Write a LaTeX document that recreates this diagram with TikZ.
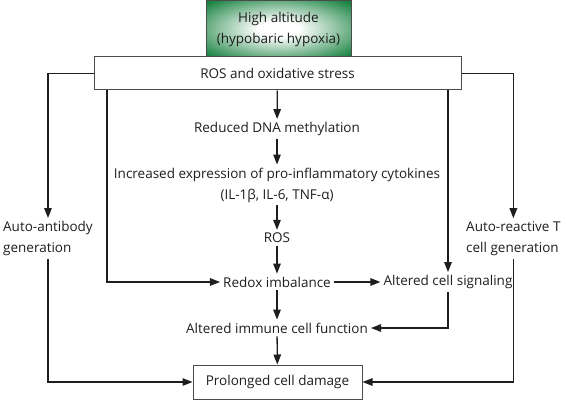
\documentclass[tikz,border=0pt]{standalone}
\usepackage{fontspec}
\setmainfont{Open Sans}
\usetikzlibrary{arrows.meta}
\definecolor{ink}{RGB}{30,30,30}
\definecolor{leaf}{RGB}{24,130,64}
\pgfdeclareradialshading{glow}{\pgfpoint{0bp}{0bp}}{color(0bp)=(white); color(7bp)=(white); color(22bp)=(leaf!55); color(34bp)=(leaf); color(50bp)=(leaf)}
\begin{document}
\begin{tikzpicture}[x=1pt,y=-1pt,font=\fontsize{13.5}{21}\selectfont,text=ink]
                        \tikzstyle{lbl}=[inner sep=3pt,align=center]
                        \tikzstyle{boxed}=[draw=ink!80,line width=1pt,inner sep=0pt]
                        \tikzstyle{flow}=[draw=ink,line width=1.3pt,-{Triangle[length=10pt,width=7.5pt]}]
                        \useasboundingbox (0,0) rectangle (567,401);
                        \node[boxed,minimum width=145,minimum height=56,shading=glow,align=center] (alt) at (278.5,29) {High altitude\\(hypobaric hypoxia)};
                        \node[boxed,minimum width=367,minimum height=33,fill=white] (ros) at (277.5,73.5) {ROS and oxidative stress};
                        \node[lbl] (dna) at (277,129) {Reduced DNA methylation};
                        \node[lbl] (cyto) at (277,185) {Increased expression of pro-inflammatory cytokines\\(IL-1β, IL-6, TNF-α)};
                        \node[lbl] (ros2) at (277,238) {ROS};
                        \node[lbl] (redox) at (277,282) {Redox imbalance};
                        \node[lbl] (signal) at (448,282) {Altered cell signaling};
                        \node[lbl] (immune) at (277,328) {Altered immune cell function};
                        \node[boxed,minimum width=169,minimum height=34] (damage) at (277.5,382) {Prolonged cell damage};
                        \node[lbl,align=left,anchor=west] (antibody) at (0,238.5) {Auto-antibody\\generation};
                        \node[lbl,align=left,anchor=west] (autoT) at (463,238.5) {Auto-reactive T\\cell generation};
                        \coordinate (drop) at (107,90);
                        \draw[flow] (ros) -- (dna);
                        \draw[flow] (dna) -- (cyto);
                        \draw[flow] (cyto) -- (ros2);
                        \draw[flow] (ros2) -- (redox);
                        \draw[flow] (redox) -- (immune);
                        \draw[flow] (immune) -- (damage);
                        \draw[flow] (redox) -- (signal);
                        \draw[flow] (drop) |- (redox);
                        \draw[flow] (ros.south -| signal) -- (signal);
                        \draw[flow] (signal) |- (immune);
                        \draw[flow] (ros.west) -| (antibody.north);
                        \draw[flow] (ros.east) -| (autoT.north);
                        \draw[flow] (antibody.south) |- (damage.west);
                        \draw[flow] (autoT.south) |- (damage.east);
                    \end{tikzpicture}
\end{document}
